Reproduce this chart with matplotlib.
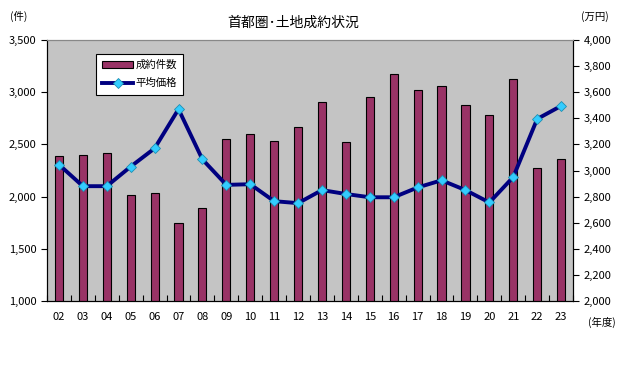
import matplotlib
matplotlib.use("Agg")
import matplotlib.pyplot as plt
import numpy as np

plt.rcParams['font.family'] = ['Noto Sans CJK JP', 'DejaVu Sans']

years = ['02', '03', '04', '05', '06', '07', '08', '09', '10', '11', '12',
         '13', '14', '15', '16', '17', '18', '19', '20', '21', '22', '23']
# 成約件数 (件)
counts = [2385, 2395, 2420, 2020, 2030, 1745, 1895, 2555, 2595, 2535, 2670,
          2910, 2525, 2950, 3170, 3025, 3060, 2880, 2785, 3130, 2270, 2365]
# 平均価格 (万円)
prices = [3045, 2880, 2880, 3030, 3170, 3470, 3085, 2890, 2895, 2765, 2750,
          2850, 2820, 2795, 2795, 2870, 2925, 2850, 2755, 2950, 3395, 3495]

fig = plt.figure(figsize=(6.3, 3.75), dpi=100)
ax = fig.add_axes([0.0746, 0.1973, 0.835, 0.696])
ax.set_facecolor('#c4c4c4')

x = np.arange(len(years))
bars = ax.bar(x, counts, width=0.34, color='#993366', edgecolor='black',
              linewidth=0.8, label='成約件数', zorder=2)
ax.set_xlim(-0.5, len(years) - 0.5)
ax.set_ylim(1000, 3500)
ax.set_yticks(np.arange(1000, 3501, 500))
ax.set_yticklabels([f'{v:,}' for v in range(1000, 3501, 500)])
ax.set_xticks(x)
ax.set_xticklabels(years)
ax.set_xticks(np.arange(-0.5, len(years), 1), minor=True)
ax.tick_params(axis='x', which='major', length=0, pad=8)
ax.tick_params(axis='x', which='minor', direction='in', length=4, width=0.8)
ax.tick_params(axis='y', direction='out', length=4, width=0.8)
ax.tick_params(labelsize=8)

ax2 = ax.twinx()
line, = ax2.plot(x, prices, color='#000080', linewidth=2.8, marker='D',
                 markersize=4.8, markerfacecolor='#33ccff',
                 markeredgecolor='#1f8fb0', markeredgewidth=0.6,
                 label='平均価格', zorder=3)
ax2.set_ylim(2000, 4000)
ax2.set_yticks(np.arange(2000, 4001, 200))
ax2.set_yticklabels([f'{v:,}' for v in range(2000, 4001, 200)])
ax2.tick_params(axis='y', direction='out', length=4, width=0.8, labelsize=8)

for a in (ax, ax2):
    for s in a.spines.values():
        s.set_linewidth(0.8)
    a.spines['top'].set_color('#888888')

leg = ax.legend([bars, line], ['成約件数', '平均価格'], loc='upper left',
                bbox_to_anchor=(0.087, 0.96), fontsize=7.5, frameon=True,
                fancybox=False, edgecolor='black', framealpha=1,
                handlelength=3.0, borderpad=0.6, labelspacing=0.8,
                handletextpad=0.2, borderaxespad=0.3)
leg.get_frame().set_linewidth(0.8)
leg.set_zorder(5)

fig.text(0.465, 0.94, '首都圏･土地成約状況', ha='center', va='center', fontsize=10)
fig.text(0.03, 0.955, '(件)', ha='center', va='center', fontsize=7.5)
fig.text(0.945, 0.955, '(万円)', ha='center', va='center', fontsize=7.5)
fig.text(0.955, 0.14, '(年度)', ha='center', va='center', fontsize=7.5)

fig.savefig('out.png', dpi=100)
